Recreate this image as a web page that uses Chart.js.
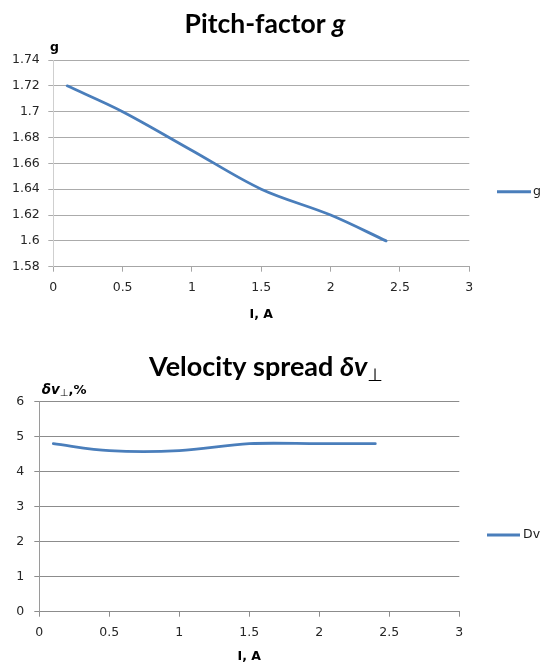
<!DOCTYPE html>
<html><head><meta charset="utf-8">
<script src="https://cdn.jsdelivr.net/npm/chart.js@4/dist/chart.umd.min.js"></script>
<style>
html,body{margin:0;padding:0;background:#fff;}
#wrap{position:relative;width:541px;height:666px;overflow:hidden;background:#fff;}
.box{position:absolute;left:0;width:541px;}
canvas{display:block;}
</style></head><body>
<div id="wrap">
<div class="box" style="top:0;height:330px"><canvas id="c1" width="541" height="330"></canvas></div>
<div class="box" style="top:330px;height:336px"><canvas id="c2" width="541" height="336"></canvas></div>
</div>
<script>
// ---------- data ----------
const currentG = [0.1, 0.5, 1.0, 1.5, 2.0, 2.4];
const pitchFactorG = [1.72, 1.70, 1.67, 1.64, 1.62, 1.60];
const currentDv = [0.1, 0.5, 1.0, 1.5, 2.0, 2.4];
const velocitySpreadDv = [4.8, 4.6, 4.6, 4.8, 4.8, 4.8];
const seriesNames = ['g', 'Dv'];
const xTickValues = [0, 0.5, 1, 1.5, 2, 2.5, 3];
const xTickLabels = ['0', '0.5', '1', '1.5', '2', '2.5', '3'];
const yTickValuesG = [1.58, 1.60, 1.62, 1.64, 1.66, 1.68, 1.70, 1.72, 1.74];
const yTickLabelsG = ['1.58', '1.6', '1.62', '1.64', '1.66', '1.68', '1.7', '1.72', '1.74'];
const yTickValuesDv = [0, 1, 2, 3, 4, 5, 6];
const yTickLabelsDv = ['0', '1', '2', '3', '4', '5', '6'];
const xAxisTitle = 'I, A';

// ---------- helpers ----------
const LINE = '#4a7ebb';
const TICKFONT = {family: 'DejaVu Sans', size: 12.5};
const TICKCOLOR = '#262626';

function drawRich(ctx, segs, x, base, align) {
  let total = 0;
  segs.forEach(s => { ctx.font = s.font; s.w = ctx.measureText(s.t).width; total += s.w + (s.gap || 0); });
  let cx = align === 'center' ? x - total / 2 : x;
  ctx.textBaseline = 'alphabetic';
  ctx.textAlign = 'left';
  segs.forEach(s => {
    ctx.font = s.font;
    ctx.fillStyle = s.color || '#000';
    ctx.fillText(s.t, cx, base + (s.dy || 0));
    cx += s.w + (s.gap || 0);
  });
}

const decorPlugin = {
  id: 'decor',
  afterDraw(chart, args, o) {
    const ctx = chart.ctx;
    ctx.save();
    drawRich(ctx, o.title, o.titleX, o.titleBase, 'center');
    drawRich(ctx, o.ylabel, o.ylabelX, o.ylabelBase, o.ylabelAlign);
    const ds = chart.data.datasets[0];
    ctx.strokeStyle = ds.borderColor;
    ctx.lineWidth = 3;
    ctx.lineCap = 'butt';
    ctx.beginPath();
    ctx.moveTo(o.legX1, o.legY);
    ctx.lineTo(o.legX2, o.legY);
    ctx.stroke();
    ctx.font = '12.5px "DejaVu Sans"';
    ctx.fillStyle = '#1a1a1a';
    ctx.textBaseline = 'middle';
    ctx.textAlign = 'left';
    ctx.fillText(ds.label, o.legTextX, o.legY);
    ctx.restore();
  }
};

function makeChart(id, cfg) {
  const pts = cfg.xs.map((x, i) => ({x: x, y: cfg.ys[i]}));
  return new Chart(document.getElementById(id), {
    type: 'line',
    data: {datasets: [{
      label: cfg.name, data: pts, borderColor: LINE, backgroundColor: LINE,
      borderWidth: 2.8, pointRadius: 0, tension: 0.33, fill: false,
      borderCapStyle: 'round', borderJoinStyle: 'round'
    }]},
    plugins: [decorPlugin],
    options: {
      responsive: false, animation: false, events: [],
      layout: {padding: cfg.padding},
      plugins: {legend: {display: false}, tooltip: {enabled: false}, title: {display: false},
        decor: cfg.decor},
      scales: {
        x: {
          type: 'linear', min: 0, max: 3,
          afterBuildTicks: s => { s.ticks = xTickValues.map(v => ({value: v})); },
          afterFit: s => { s.height = cfg.xH; },
          ticks: {font: TICKFONT, color: TICKCOLOR, padding: cfg.xPad, maxRotation: 0,
            callback: (v, i) => xTickLabels[i]},
          grid: {drawOnChartArea: false, drawTicks: true, tickLength: 5, color: cfg.xGrid},
          border: {color: cfg.xBorder, width: 1},
          title: {display: true, text: xAxisTitle, color: '#000',
            font: {family: 'DejaVu Sans', size: 12.5, weight: 'bold'}, padding: {top: 0, bottom: cfg.xTitlePad}}
        },
        y: {
          type: 'linear', min: cfg.yMin, max: cfg.yMax,
          afterBuildTicks: s => { s.ticks = cfg.yTicks.map(v => ({value: v})); },
          afterFit: s => { s.width = cfg.yW; },
          ticks: {font: TICKFONT, color: TICKCOLOR, padding: cfg.yPad,
            callback: (v, i) => cfg.yLabels[i]},
          grid: {drawTicks: true, tickLength: 5, color: cfg.yGrid},
          border: {color: cfg.yBorder, width: 1}
        }
      }
    }
  });
}

makeChart('c1', {
  xs: currentG, ys: pitchFactorG, name: seriesNames[0],
  yMin: 1.58, yMax: 1.74, yTicks: yTickValuesG, yLabels: yTickLabelsG,
  padding: {top: 60, right: 71.7, bottom: 0, left: 0},
  yW: 53.3, xH: 63.3, xPad: 8.5, yPad: 8.5, xTitlePad: 8,
  xGrid: '#a6a6a6', xBorder: '#a6a6a6', yGrid: '#ababab', yBorder: '#cfcfcf',
  decor: {
    title: [{t: 'Pitch-factor ', font: 'bold 26.5px Lato'}, {t: 'g', font: 'italic bold 26.5px Lato'}],
    titleX: 265, titleBase: 32.8,
    ylabel: [{t: 'g', font: 'bold 12.5px "DejaVu Sans"'}], ylabelX: 54.5, ylabelBase: 50.5, ylabelAlign: 'center',
    legX1: 497, legX2: 531, legY: 191.7, legTextX: 533
  }
});

makeChart('c2', {
  xs: currentDv, ys: velocitySpreadDv, name: seriesNames[1],
  yMin: 0, yMax: 6, yTicks: yTickValuesDv, yLabels: yTickLabelsDv,
  padding: {top: 71.7, right: 81.7, bottom: 0, left: 0},
  yW: 39.3, xH: 54.3, xPad: 9, yPad: 10, xTitlePad: 2,
  xGrid: '#8c8c8c', xBorder: '#8c8c8c', yGrid: '#8c8c8c', yBorder: '#9a9a9a',
  decor: {
    title: [{t: 'Velocity spread ', font: 'bold 27px Lato'},
            {t: 'δv', font: 'italic bold 27px Lato'},
            {t: '⊥', font: 'italic 18px "DejaVu Sans"', dy: 5}],
    titleX: 266, titleBase: 46,
    ylabel: [{t: 'δv', font: 'italic bold 13.5px "DejaVu Sans"'},
             {t: '⊥', font: 'italic 10px "DejaVu Sans"', dy: 2},
             {t: ',%', font: 'bold 13px "DejaVu Sans"'}],
    ylabelX: 41.7, ylabelBase: 64, ylabelAlign: 'left',
    legX1: 487, legX2: 520, legY: 205, legTextX: 523
  }
});
</script>
</body></html>
